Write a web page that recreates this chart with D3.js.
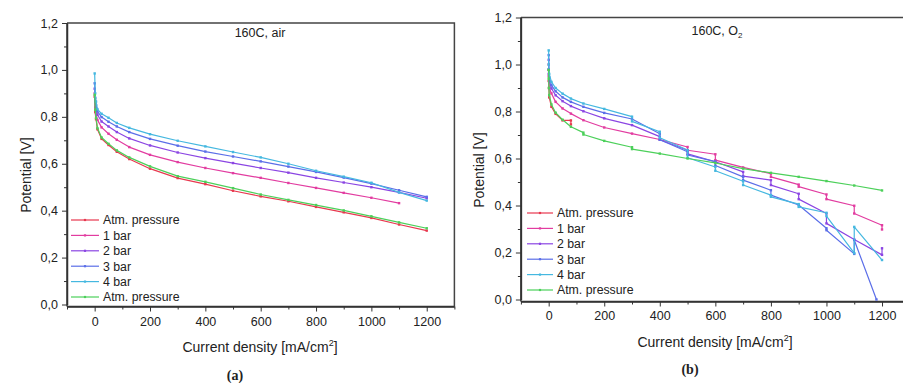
<!DOCTYPE html>
<html>
<head>
<meta charset="utf-8">
<script src="https://cdn.jsdelivr.net/npm/d3@7"></script>
<style>
body { margin: 0; background: #fff; }
svg { display: block; font-family: "Liberation Sans", Arial, sans-serif; }
.axis path, .axis line { stroke: #333; }
.axis text { fill: #222; font-size: 12.5px; font-family: "Liberation Sans", Arial, sans-serif; }
</style>
</head>
<body>
<div id="chart"></div>
<script>
// series names + colours (same for both panels)
var seriesNames = ["Atm. pressure", "1 bar", "2 bar", "3 bar", "4 bar", "Atm. pressure"];
var seriesColors = ["#e8384f", "#e23ca0", "#8b45e3", "#5b6ee8", "#45b8e0", "#4cd05a"];

var xTicks = [0, 200, 400, 600, 800, 1000, 1200];
var yTicks = [0, 0.2, 0.4, 0.6, 0.8, 1.0, 1.2];

// (a) 160C, air  - current density points
var xA = [0, 2, 5, 10, 25, 50, 80, 125, 200, 300, 400, 500, 600, 700, 800, 900, 1000, 1100, 1200];
var atmA   = [0.886, 0.82, 0.79, 0.747, 0.706, 0.68, 0.651, 0.62, 0.579, 0.539, 0.513, 0.485, 0.461, 0.44, 0.416, 0.393, 0.369, 0.341, 0.315];
var bar1A  = [0.90, 0.84, 0.81, 0.787, 0.755, 0.728, 0.702, 0.671, 0.638, 0.607, 0.582, 0.56, 0.54, 0.518, 0.497, 0.476, 0.455, 0.432];
var bar2A  = [0.92, 0.865, 0.835, 0.809, 0.78, 0.759, 0.735, 0.708, 0.678, 0.648, 0.624, 0.603, 0.582, 0.562, 0.54, 0.52, 0.5, 0.478, 0.453];
var bar3A  = [0.943, 0.88, 0.85, 0.823, 0.799, 0.779, 0.759, 0.735, 0.706, 0.677, 0.652, 0.631, 0.61, 0.588, 0.565, 0.541, 0.515, 0.487, 0.459];
var bar4A  = [0.985, 0.9, 0.865, 0.833, 0.813, 0.796, 0.774, 0.753, 0.726, 0.698, 0.674, 0.65, 0.627, 0.6, 0.57, 0.545, 0.519, 0.478, 0.443];
var atm2A  = [0.894, 0.83, 0.795, 0.752, 0.712, 0.685, 0.657, 0.627, 0.589, 0.547, 0.523, 0.496, 0.469, 0.446, 0.424, 0.401, 0.376, 0.35, 0.325];

// (b) 160C, O2 - [current density, potential], repeated x = start/end of hold
var atmB = [[0,0.977],[0,0.93],[1,0.9],[2,0.86],[10,0.82],[25,0.79],[50,0.762],[80,0.762],[80,0.745]];
var bar1B = [[0,1.0],[0,0.95],[2,0.9],[10,0.877],[25,0.841],[50,0.813],[80,0.791],[125,0.763],[200,0.732],[300,0.706],[400,0.681],
  [500,0.649],[500,0.635],[600,0.618],[600,0.593],[700,0.562],[800,0.536],[800,0.522],[900,0.489],[900,0.48],
  [1000,0.447],[1000,0.427],[1100,0.399],[1100,0.366],[1200,0.316],[1200,0.298]];
var bar2B = [[0,1.02],[0,0.96],[2,0.93],[10,0.898],[25,0.869],[50,0.844],[80,0.823],[125,0.801],[200,0.771],[300,0.742],
  [400,0.693],[400,0.68],[500,0.635],[500,0.62],[600,0.586],[700,0.543],[700,0.525],[800,0.508],[800,0.487],
  [900,0.45],[900,0.427],[1000,0.366],[1000,0.324],[1100,0.255],[1200,0.19],[1200,0.218]];
var bar3B = [[0,1.04],[0,0.98],[2,0.945],[10,0.912],[25,0.886],[50,0.86],[80,0.841],[125,0.82],[200,0.794],[300,0.768],
  [400,0.705],[400,0.68],[500,0.629],[500,0.615],[600,0.587],[600,0.57],[700,0.522],[700,0.508],[800,0.465],[800,0.444],
  [900,0.402],[1000,0.303],[1000,0.295],[1100,0.194],[1100,0.253],[1180,0.0]];
var bar4B = [[0,1.06],[0,1.0],[2,0.96],[10,0.926],[25,0.9],[50,0.876],[80,0.855],[125,0.834],[200,0.811],[300,0.778],[300,0.758],
  [400,0.714],[400,0.688],[500,0.636],[500,0.603],[600,0.564],[600,0.548],[700,0.503],[700,0.487],[800,0.444],[800,0.437],
  [900,0.406],[900,0.394],[1000,0.369],[1000,0.355],[1100,0.197],[1100,0.309],[1200,0.168]];
var atm2B = [[0,0.977],[0,0.94],[1,0.9],[2,0.87],[10,0.83],[25,0.795],[50,0.765],[80,0.735],[125,0.71],[125,0.702],[200,0.675],
  [300,0.648],[300,0.64],[400,0.621],[500,0.6],[600,0.581],[700,0.557],[800,0.539],[900,0.522],[1000,0.504],[1100,0.485],[1200,0.464]];

function zipA(ys) { return ys.map(function(v, i) { return [xA[i], v]; }); }

var panels = [
  { series: [atmA, bar1A, bar2A, bar3A, bar4A, atm2A].map(zipA),
    left: 67, right: 454.4, top: 23, bottom: 304.5, xPad: 6,
    title: "160C, air", titleX: 260, titleY: 37,
    ylabX: 31, ylabY: 175, xlabX: 260, xlabY: 352,
    tagX: 235, tagY: 380, tag: "(a)",
    legX: 71, legY: 220, legW: 28 },
  { series: [atmB, bar1B, bar2B, bar3B, bar4B, atm2B],
    left: 520.9, right: 909.8, top: 17.5, bottom: 299.5, xPad: 5,
    title: "160C, O", sub: "2", titleX: 717, titleY: 35,
    ylabX: 484, ylabY: 170, xlabX: 715, xlabY: 347,
    tagX: 690, tagY: 374, tag: "(b)",
    legX: 527, legY: 213, legW: 26 }
];

var svg = d3.select("#chart").append("svg")
  .attr("width", 903).attr("height", 383);

var fmt = function(d) { return d3.format(".1f")(d).replace(".", ","); };

panels.forEach(function(p) {
  var x = d3.scaleLinear().domain([-100, 1300]).range([p.left, p.right]);
  var y = d3.scaleLinear().domain([0, 1.2]).range([p.bottom, p.top]);
  var axisY = p.bottom + 2;
  var g = svg.append("g");

  // frame (top + right)
  g.append("path")
    .attr("d", "M" + p.left + "," + p.top + "H" + p.right + "V" + axisY)
    .attr("fill", "none").attr("stroke", "#444").attr("stroke-width", 1.5);

  // minor ticks
  g.append("g").attr("class", "axis")
    .attr("transform", "translate(0," + axisY + ")")
    .call(d3.axisBottom(x).tickValues(d3.range(-100, 1301, 100).filter(function(d) { return d % 200 != 0; }))
      .tickSize(3).tickSizeOuter(0).tickFormat(""));
  g.append("g").attr("class", "axis")
    .attr("transform", "translate(" + p.left + ",0)")
    .call(d3.axisLeft(y).tickValues([0.1, 0.3, 0.5, 0.7, 0.9, 1.1])
      .tickSize(3).tickSizeOuter(0).tickFormat(""));

  // major ticks
  var xa = g.append("g").attr("class", "axis")
    .attr("transform", "translate(0," + axisY + ")")
    .call(d3.axisBottom(x).tickValues(xTicks).tickSize(5).tickSizeOuter(0)
      .tickPadding(p.xPad).tickFormat(d3.format("d")));
  var ya = g.append("g").attr("class", "axis")
    .attr("transform", "translate(" + p.left + ",0)")
    .call(d3.axisLeft(y).tickValues(yTicks).tickSize(5).tickSizeOuter(0).tickPadding(4).tickFormat(fmt));
  g.selectAll(".axis path.domain").attr("stroke-width", 1.5);
  ya.select("path.domain").attr("d", "M0," + p.top + "V" + axisY);
  xa.select("path.domain").attr("d", "M" + p.left + ",0H" + p.right);

  // curves
  var line = d3.line().x(function(d) { return x(d[0]); }).y(function(d) { return y(d[1]); });
  p.series.forEach(function(s, i) {
    g.append("path").datum(s)
      .attr("fill", "none").attr("stroke", seriesColors[i])
      .attr("stroke-width", 1.2).attr("stroke-linejoin", "round")
      .attr("d", line);
    g.selectAll(null).data(s).enter().append("rect")
      .attr("x", function(d) { return x(d[0]) - 1.2; })
      .attr("y", function(d) { return y(d[1]) - 1.2; })
      .attr("width", 2.4).attr("height", 2.4)
      .attr("fill", seriesColors[i]);
  });

  // legend
  seriesNames.forEach(function(name, i) {
    var ly = p.legY + i * 15.4;
    g.append("line")
      .attr("x1", p.legX).attr("x2", p.legX + p.legW)
      .attr("y1", ly).attr("y2", ly)
      .attr("stroke", seriesColors[i]).attr("stroke-width", 1.2);
    g.append("rect")
      .attr("x", p.legX + p.legW / 2 - 1.1).attr("y", ly - 1.1)
      .attr("width", 2.2).attr("height", 2.2).attr("fill", seriesColors[i]);
    g.append("text")
      .attr("x", p.legX + p.legW + 4).attr("y", ly + 4.3)
      .attr("font-size", 12.3).attr("fill", "#222")
      .text(name);
  });

  // titles
  var t = g.append("text")
    .attr("x", p.titleX).attr("y", p.titleY)
    .attr("text-anchor", "middle").attr("font-size", 12.5).attr("fill", "#222")
    .text(p.title);
  if (p.sub) {
    t.append("tspan").attr("font-size", 8).attr("dy", 3).text(p.sub);
  }

  g.append("text")
    .attr("transform", "translate(" + p.ylabX + "," + p.ylabY + ") rotate(-90)")
    .attr("text-anchor", "middle").attr("font-size", 14).attr("fill", "#222")
    .text("Potential [V]");

  var xl = g.append("text")
    .attr("x", p.xlabX).attr("y", p.xlabY)
    .attr("text-anchor", "middle").attr("font-size", 14).attr("fill", "#222")
    .text("Current density [mA/cm");
  xl.append("tspan").attr("font-size", 9).attr("dy", -6).text("2");
  xl.append("tspan").attr("dy", 6).text("]");

  g.append("text")
    .attr("x", p.tagX).attr("y", p.tagY)
    .attr("text-anchor", "middle")
    .attr("font-family", "'Liberation Serif', 'DejaVu Serif', serif")
    .attr("font-weight", "bold").attr("font-size", 14).attr("fill", "#222")
    .text(p.tag);
});
</script>
</body>
</html>
